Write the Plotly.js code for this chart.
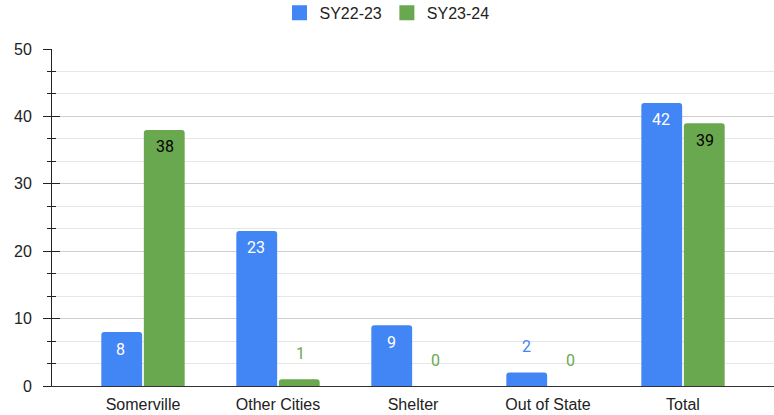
<!DOCTYPE html>
<html>
<head>
<meta charset="utf-8">
<script src="https://cdn.plot.ly/plotly-3.0.1.min.js"></script>
<style>
  html, body { margin: 0; padding: 0; background: #fff; }
  #chart { width: 774px; height: 415px; }
</style>
</head>
<body>
<div id="chart"></div>
<script>
const BLUE = "#4285f4";
const GREEN = "#6aa84f";

const categories = ["Somerville", "Other Cities", "Shelter", "Out of State", "Total"];
const seriesNames = ["SY22-23", "SY23-24"];
const sy2223 = [8, 23, 9, 2, 42];
const sy2324 = [38, 1, 0, 0, 39];
const yTicks = [0, 10, 20, 30, 40, 50];

const series = [
    { name: seriesNames[0], values: sy2223, color: BLUE, insideText: "#ffffff", shift: -22 },
    { name: seriesNames[1], values: sy2324, color: GREEN, insideText: "#000000", shift: 22 },
];

let traces = [];
let labels = [];
for (const s of series) {
    traces.push({
        type: "bar",
        name: s.name,
        x: categories,
        y: s.values,
        marker: { color: s.color },
        showlegend: false,
        hoverinfo: "none",
    });
    // data labels: inside the top of tall bars, above the short ones
    s.values.forEach((v, i) => {
        const inside = v >= 5;
        labels.push({
            x: categories[i],
            y: v,
            xref: "x",
            yref: "y",
            text: String(v),
            showarrow: false,
            xshift: s.shift,
            yshift: inside ? -17 : 26,
            font: { family: "Roboto", size: 16, color: inside ? s.insideText : s.color },
        });
    });
}

// square legend swatches (bar swatches are too small)
for (const s of series) {
    traces.push({
        type: "scatter",
        name: s.name,
        x: [null],
        y: [null],
        mode: "markers",
        marker: { symbol: "square", size: 15, color: s.color },
        hoverinfo: "none",
    });
}

// overlay axis only to draw the inner half of the crossing ticks
traces.push({
    type: "scatter",
    x: [categories[0]],
    y: [0],
    yaxis: "y2",
    mode: "markers",
    marker: { opacity: 0 },
    showlegend: false,
    hoverinfo: "none",
});

const layout = {
    width: 774,
    height: 415,
    margin: { l: 52, r: 0, t: 49, b: 29 },
    paper_bgcolor: "#ffffff",
    plot_bgcolor: "#ffffff",
    font: { family: "Liberation Sans, Arial, sans-serif", size: 16, color: "#222222" },
    barmode: "group",
    bargap: 0.37,
    bargroupgap: 0.04,
    barcornerradius: 3,
    showlegend: true,
    legend: {
        orientation: "h",
        xref: "container",
        yref: "container",
        x: 0.5,
        xanchor: "center",
        y: 0.969,
        yanchor: "middle",
        font: { size: 16, color: "#222222" },
        itemclick: false,
    },
    xaxis: {
        type: "category",
        range: [-0.674, 4.674],
        showgrid: false,
        zeroline: false,
        showline: true,
        linecolor: "#333333",
        linewidth: 1,
        ticks: "",
        ticklabelstandoff: 4,
        fixedrange: true,
    },
    yaxis: {
        range: [0, 50],
        tickvals: yTicks,
        ticks: "outside",
        ticklen: 8,
        tickcolor: "#222222",
        showline: true,
        linecolor: "#222222",
        zeroline: false,
        gridcolor: "#cfcfcf",
        ticklabelstandoff: 8,
        minor: {
            tick0: 0,
            dtick: 10 / 3,
            ticks: "outside",
            ticklen: 4,
            tickcolor: "#222222",
            showgrid: true,
            gridcolor: "#e6e6e6",
        },
        fixedrange: true,
    },
    yaxis2: {
        overlaying: "y",
        range: [0, 50],
        tickvals: yTicks,
        ticks: "inside",
        ticklen: 8,
        tickcolor: "#222222",
        showticklabels: false,
        showgrid: false,
        zeroline: false,
        minor: {
            tick0: 0,
            dtick: 10 / 3,
            ticks: "inside",
            ticklen: 4,
            tickcolor: "#222222",
            showgrid: false,
        },
        fixedrange: true,
    },
    annotations: labels,
};

Plotly.newPlot("chart", traces, layout, { displayModeBar: false, staticPlot: true });
</script>
</body>
</html>
